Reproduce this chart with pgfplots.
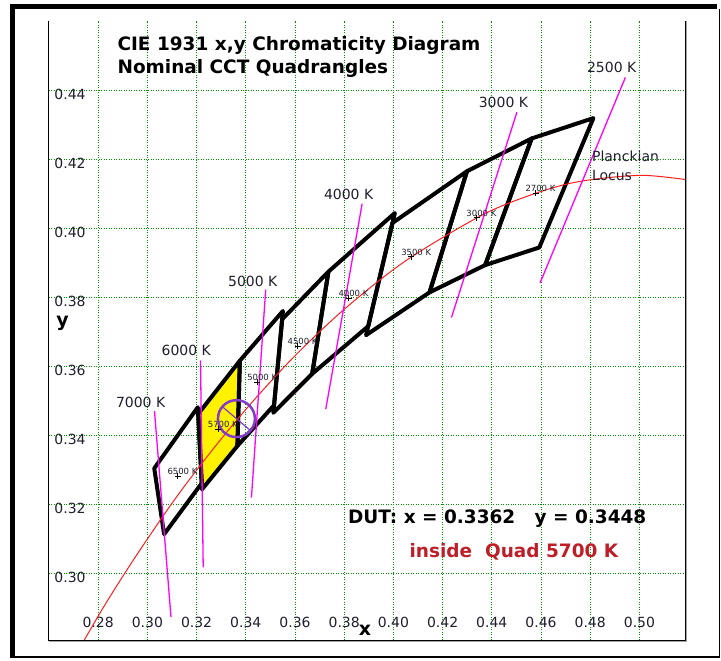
\documentclass[border=0pt]{standalone}
\usepackage{fontspec}
\setmainfont{DejaVu Sans}
\usepackage{pgfplots}
\pgfplotsset{compat=1.18}
\definecolor{gridgreen}{RGB}{0,150,0}
\definecolor{magline}{RGB}{255,0,255}
\definecolor{locusred}{RGB}{255,30,30}
\definecolor{dutpurple}{RGB}{130,60,200}
\definecolor{insidered}{RGB}{190,30,40}
\definecolor{textdark}{RGB}{30,30,45}
\tikzset{smalllbl/.style={anchor=base west, inner sep=0pt, xshift=-10.3pt, yshift=1.5pt, font=\fontsize{8.5}{9}\selectfont, text=textdark}}
\begin{document}
\begin{tikzpicture}
\path (-48.7pt,-18pt) rectangle (672.3pt,641pt);
\begin{axis}[
  at={(0pt,0pt)}, anchor=south west,
  scale only axis, width=637.6pt, height=620.3pt,
  xmin=0.25987, xmax=0.51867, ymin=0.28061, ymax=0.46014,
  axis line style={draw=none},
  tick style={draw=none},
  xtick={0.28,0.30,0.32,0.34,0.36,0.38,0.40,0.42,0.44,0.46,0.48,0.50},
  xticklabels={0.28,0.30,0.32,0.34,0.36,0.38,0.40,0.42,0.44,0.46,0.48,0.50},
  ytick={0.30,0.32,0.34,0.36,0.38,0.40,0.42,0.44},
  yticklabels={0.30,0.32,0.34,0.36,0.38,0.40,0.42,0.44},
  xticklabel style={anchor=south, inner sep=0pt, yshift=12pt, font=\fontsize{14}{16}\selectfont, text=textdark},
  yticklabel style={anchor=north west, inner sep=0pt, xshift=5.6pt, yshift=1pt, font=\fontsize{14}{16}\selectfont, text=textdark},
  grid=major,
  major grid style={draw=gridgreen, line width=0.7pt, dash pattern=on 1pt off 1.5pt},
]
% 5700 K quad fill
\addplot[fill=yellow, draw=none] coordinates {(0.3376,0.3616) (0.3207,0.3462) (0.3222,0.3243) (0.3366,0.3369)} -- cycle;
% quadrangles
\addplot[black, line width=4pt, line join=round] coordinates {(0.4813,0.4319) (0.4562,0.4260) (0.4373,0.3893) (0.4593,0.3944)} -- cycle;
\addplot[black, line width=4pt, line join=round] coordinates {(0.4562,0.4260) (0.4299,0.4165) (0.4147,0.3814) (0.4373,0.3893)} -- cycle;
\addplot[black, line width=4pt, line join=round] coordinates {(0.4299,0.4165) (0.3996,0.4015) (0.3889,0.3690) (0.4147,0.3814)} -- cycle;
\addplot[black, line width=4pt, line join=round] coordinates {(0.4006,0.4044) (0.3736,0.3874) (0.3670,0.3578) (0.3898,0.3716)} -- cycle;
\addplot[black, line width=4pt, line join=round] coordinates {(0.3736,0.3874) (0.3548,0.3736) (0.3512,0.3465) (0.3670,0.3578)} -- cycle;
\addplot[black, line width=4pt, line join=round] coordinates {(0.3551,0.3760) (0.3376,0.3616) (0.3366,0.3369) (0.3515,0.3487)} -- cycle;
\addplot[black, line width=4pt, line join=round] coordinates {(0.3376,0.3616) (0.3207,0.3462) (0.3222,0.3243) (0.3366,0.3369)} -- cycle;
\addplot[black, line width=4pt, line join=round] coordinates {(0.3205,0.3481) (0.3028,0.3304) (0.3068,0.3113) (0.3221,0.3261)} -- cycle;
% Planckian locus
\addplot[locusred, line width=1pt, smooth] coordinates {(0.5267,0.4133) (0.5018,0.4153) (0.4770,0.4137) (0.4599,0.4106) (0.4369,0.4041) (0.4053,0.3907) (0.3805,0.3768) (0.3608,0.3636) (0.3451,0.3516) (0.3325,0.3411) (0.3221,0.3318) (0.3135,0.3237) (0.3064,0.3166) (0.2952,0.3048) (0.2869,0.2956) (0.2807,0.2884) (0.2719,0.2776)};
% isotemperature lines
\addplot[magline, line width=1.3pt] coordinates {(0.4943,0.4437) (0.4596,0.3841)};
\addplot[magline, line width=1.3pt] coordinates {(0.4502,0.4336) (0.4236,0.3741)};
\addplot[magline, line width=1.3pt] coordinates {(0.3873,0.4071) (0.3725,0.3475)};
\addplot[magline, line width=1.3pt] coordinates {(0.3481,0.3822) (0.3423,0.3219)};
\addplot[magline, line width=1.3pt] coordinates {(0.3216,0.3617) (0.3227,0.3017)};
\addplot[magline, line width=1.3pt] coordinates {(0.3029,0.3470) (0.3096,0.2873)};
% DUT
\addplot[dutpurple, line width=1.2pt] coordinates {(0.3306,0.3482) (0.3418,0.3414)};
\addplot[only marks, mark=o, mark size=18.5pt, mark options={draw=dutpurple, line width=2.5pt}] coordinates {(0.3362,0.3448)};
% quad centres
\addplot[only marks, mark=+, mark size=3pt, mark options={black, line width=0.7pt}] coordinates {(0.4578,0.4101) (0.4338,0.4030) (0.4073,0.3917) (0.3818,0.3797) (0.3611,0.3658) (0.3447,0.3553) (0.3287,0.3417) (0.3123,0.3282)};
\node[smalllbl] at (axis cs:0.4578,0.4101) {2700 K};
\node[smalllbl] at (axis cs:0.4338,0.4030) {3000 K};
\node[smalllbl] at (axis cs:0.4073,0.3917) {3500 K};
\node[smalllbl] at (axis cs:0.3818,0.3797) {4000 K};
\node[smalllbl] at (axis cs:0.3611,0.3658) {4500 K};
\node[smalllbl] at (axis cs:0.3447,0.3553) {5000 K};
\node[smalllbl] at (axis cs:0.3287,0.3417) {5700 K};
\node[smalllbl] at (axis cs:0.3123,0.3282) {6500 K};
\end{axis}
% plot box (no top line)
\draw[gray!70, line width=1pt] (0pt,-1.3pt) -- (638.8pt,-1.3pt) -- (638.8pt,620.3pt);
\draw[black, line width=1pt] (0pt,620.3pt) -- (0pt,0pt) -- (637.6pt,0pt) -- (637.6pt,620.3pt);
% outer frame
\draw[black, line width=5pt] (-38.7pt,634.2pt) -- (669.3pt,634.2pt);
\draw[black, line width=5pt] (-36.2pt,636.7pt) -- (-36.2pt,-18pt);
\draw[black, line width=2pt] (-38.7pt,-17pt) -- (672.3pt,-17pt);
\draw[black, line width=1.3pt] (671.6pt,631.7pt) -- (671.6pt,-18pt);
% titles
\node[anchor=base west, inner sep=0pt, font=\fontsize{18.5}{22}\selectfont\bfseries] at (68.8pt,590.3pt) {CIE 1931 x,y Chromaticity Diagram};
\node[anchor=base west, inner sep=0pt, font=\fontsize{18.5}{22}\selectfont\bfseries] at (68.8pt,567pt) {Nominal CCT Quadrangles};
\node[anchor=base west, inner sep=0pt, font=\fontsize{18.5}{22}\selectfont\bfseries] at (299.6pt,117pt) {DUT: x = 0.3362\ \ \ y = 0.3448};
\node[anchor=base west, inner sep=0pt, font=\fontsize{18.5}{22}\selectfont\bfseries, text=insidered] at (361.3pt,82.7pt) {inside\ \ Quad 5700 K};
% locus label
\node[anchor=base west, inner sep=0pt, font=\fontsize{14}{16}\selectfont, text=textdark] at (544pt,479.3pt) {Planckian};
\node[anchor=base west, inner sep=0pt, font=\fontsize{14}{16}\selectfont, text=textdark] at (544pt,460.3pt) {Locus};
% CCT line labels
\node[anchor=base west, inner sep=0pt, font=\fontsize{14}{16}\selectfont, text=textdark] at (67.3pt,233pt) {7000 K};
\node[anchor=base west, inner sep=0pt, font=\fontsize{14}{16}\selectfont, text=textdark] at (113pt,285pt) {6000 K};
\node[anchor=base west, inner sep=0pt, font=\fontsize{14}{16}\selectfont, text=textdark] at (179.6pt,354.5pt) {5000 K};
\node[anchor=base west, inner sep=0pt, font=\fontsize{14}{16}\selectfont, text=textdark] at (275.6pt,441pt) {4000 K};
\node[anchor=base west, inner sep=0pt, font=\fontsize{14}{16}\selectfont, text=textdark] at (430.6pt,533.7pt) {3000 K};
\node[anchor=base west, inner sep=0pt, font=\fontsize{14}{16}\selectfont, text=textdark] at (539pt,568.3pt) {2500 K};
% axis labels
\node[anchor=base, inner sep=0pt, font=\fontsize{19}{22}\selectfont\bfseries] at (316.8pt,4.3pt) {x};
\node[anchor=base, inner sep=0pt, font=\fontsize{19}{22}\selectfont\bfseries] at (13.9pt,314pt) {y};
\end{tikzpicture}
\end{document}
